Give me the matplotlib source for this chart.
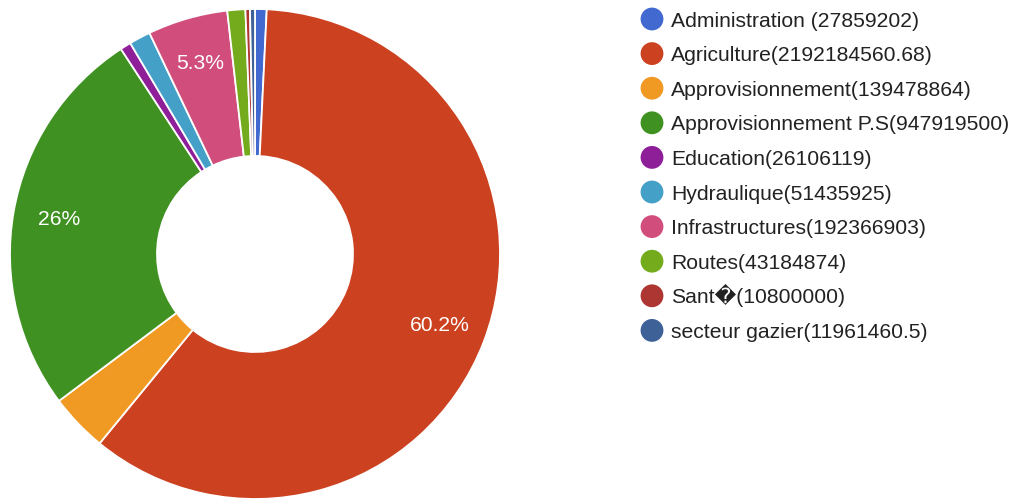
import numpy as np
import matplotlib
matplotlib.use("Agg")
from matplotlib import pyplot as plt

plt.rcParams['font.family'] = ['Liberation Sans', 'DejaVu Sans']

# data
sectors = ["Administration ", "Agriculture", "Approvisionnement", "Approvisionnement P.S",
           "Education", "Hydraulique", "Infrastructures", "Routes", "Sant\ufffd", "secteur gazier"]
amounts = [27859202, 2192184560.68, 139478864, 947919500, 26106119,
           51435925, 192366903, 43184874, 10800000, 11961460.5]
amount_txt = ["27859202", "2192184560.68", "139478864", "947919500", "26106119",
              "51435925", "192366903", "43184874", "10800000", "11961460.5"]
colors = ["#4169cf", "#cc4120", "#f09a24", "#3f9222", "#8e1f99",
          "#45a0c8", "#d04d7c", "#74ab1c", "#ad3632", "#3e6198"]

W, H = 1018, 499
fig = plt.figure(figsize=(W / 100, H / 100), dpi=100)

# donut
cx, cy, R = 255, 254, 245
ax = fig.add_axes([(cx - R) / W, (H - cy - R) / H, 2 * R / W, 2 * R / H])

def pct_fmt(p):
    if p < 5:
        return ""
    s = "%.1f" % p
    if s.endswith(".0"):
        s = s[:-2]
    return s + "%"

wedges, texts, autotexts = ax.pie(amounts, colors=colors, startangle=90, counterclock=False,
                                  radius=1, autopct=pct_fmt, pctdistance=0.81,
                                  wedgeprops=dict(width=0.6, edgecolor="white", linewidth=1.3),
                                  textprops=dict(color="white", fontsize=15.2))
ax.set_xlim(-1, 1)
ax.set_ylim(-1, 1)
ax.set_aspect("equal")
ax.axis("off")

# legend drawn in pixel coordinates
lg = fig.add_axes([0, 0, 1, 1])
lg.set_xlim(0, W)
lg.set_ylim(H, 0)
lg.axis("off")
row_y = 19 + 34.6 * np.arange(len(sectors))
lg.scatter([652] * len(sectors), row_y, s=270, c=colors, edgecolors="none")
for i, name in enumerate(sectors):
    lg.text(671, row_y[i] + 7.5, name + "(" + amount_txt[i] + ")", fontsize=15.2,
            color="#222222", va="baseline", ha="left")

plt.savefig("out.png", dpi=100)
